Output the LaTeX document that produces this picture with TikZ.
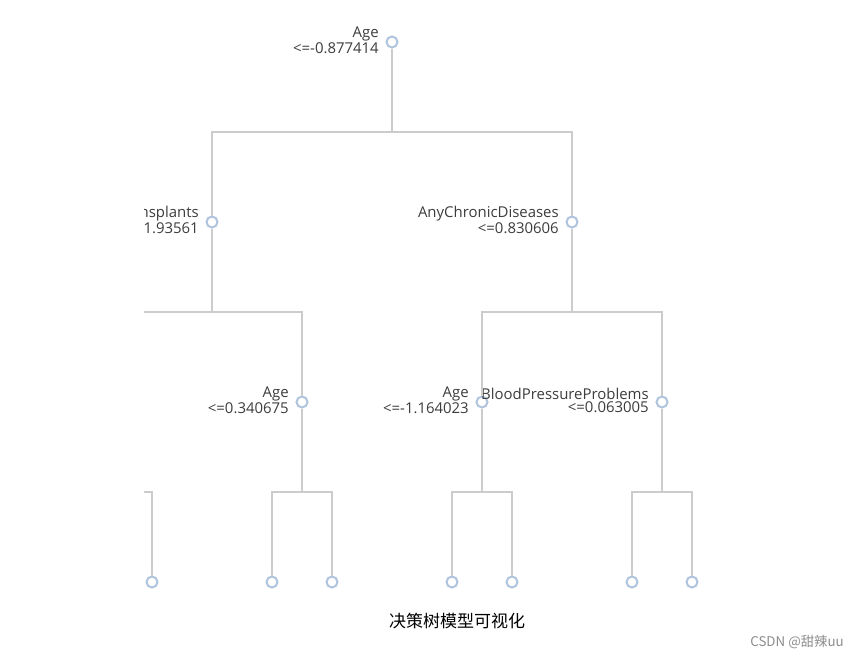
\documentclass[tikz,border=0pt]{standalone}
\usepackage{fontspec}
\setmainfont{Open Sans}
\newfontfamily\cjk{Noto Sans CJK SC}
\usetikzlibrary{calc}
\definecolor{edgegray}{HTML}{CCCCCC}
\definecolor{nodeblue}{HTML}{B0C4DE}
\definecolor{labelgray}{HTML}{3C3C3C}
\tikzset{
  treenode/.style={circle,draw=nodeblue,fill=white,line width=1.5pt,minimum size=8.25pt,inner sep=0pt},
  split/.style={align=right,anchor=east,inner sep=0pt,text=labelgray,font=\fontsize{11.2pt}{9.75pt}\selectfont},
  branch/.style={draw=edgegray,line width=1.5pt},
}
\begin{document}
\begin{tikzpicture}[x=0.75pt,y=-0.75pt]
	\useasboundingbox (0,0) rectangle (858,657);
	\begin{scope}
		\clip (144,0) rectangle (858,657);
		% split nodes
		\node[treenode] (root) at (392,42) {};
		\node[treenode] (a) at (212,222) {};
		\node[treenode] (b) at (572,222) {};
		\node[treenode] (aa) at (122,402) {};
		\node[treenode] (ab) at (302,402) {};
		\node[treenode] (ba) at (482,402) {};
		\node[treenode] (bb) at (662,402) {};
		% leaves
		\node[treenode] (aaa) at (92,582) {};
		\node[treenode] (aab) at (152,582) {};
		\node[treenode] (aba) at (272,582) {};
		\node[treenode] (abb) at (332,582) {};
		\node[treenode] (baa) at (452,582) {};
		\node[treenode] (bab) at (512,582) {};
		\node[treenode] (bba) at (632,582) {};
		\node[treenode] (bbb) at (692,582) {};
		% labels
		\node[split] (root-lbl) at ($(root)+(-13,-2)$) {Age\\<=-0.877414};
		\node[split] (a-lbl) at ($(a)+(-13,-2)$) {AnyTransplants\\<=1.93561};
		\node[split] (b-lbl) at ($(b)+(-13,-2)$) {AnyChronicDiseases\\<=0.830606};
		\node[split] (ab-lbl) at ($(ab)+(-13,-2)$) {Age\\<=0.340675};
		\node[split] (ba-lbl) at ($(ba)+(-13,-2)$) {Age\\<=-1.164023};
		\node[split] (bb-lbl) at ($(bb)+(-13,-2)$) {BloodPressureProblems\\<=0.063005};
		% branches
		\foreach \p/\c in {root/a,root/b,a/aa,a/ab,b/ba,b/bb,aa/aaa,aa/aab,ab/aba,ab/abb,ba/baa,ba/bab,bb/bba,bb/bbb}
			\draw[branch] (\p) |- ($(\p)!.5!(\c)$) -| (\c);
	\end{scope}
	\node[font=\cjk\fontsize{12.75pt}{15pt}\selectfont] (title) at (457,621) {决策树模型可视化};
	\node[anchor=east,inner sep=0pt,text=black!45,font=\cjk\fontsize{10pt}{12pt}\selectfont] (mark) at (844,642) {CSDN @甜辣uu};
\end{tikzpicture}
\end{document}
